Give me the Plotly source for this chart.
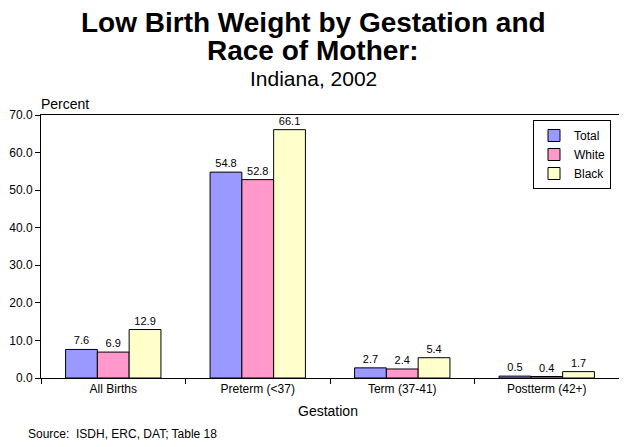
import plotly.graph_objects as go

categories = ["All Births", "Preterm (<37)", "Term (37-41)", "Postterm (42+)"]
series_names = ["Total", "White", "Black"]
total = [7.6, 54.8, 2.7, 0.5]
white = [6.9, 52.8, 2.4, 0.4]
black = [12.9, 66.1, 5.4, 1.7]
colors = ["#9999FF", "#FF99CC", "#FFFFCC"]

FONT = "Liberation Sans, Arial, sans-serif"

# page shows the figure offset by the 8px body margin
OFF = 8
W, H = 627 - OFF, 447 - OFF
l, r, t, b = 41 - OFF, 8, 115 - OFF, 69
pw, ph = W - l - r, H - t - b

def px(x):
    return (x - OFF - l) / pw

def py(y):
    return (H - b - (y - OFF)) / ph

fig = go.Figure()
for name, vals, col in zip(series_names, [total, white, black], colors):
    fig.add_trace(go.Bar(
        x=categories, y=vals, name=name,
        marker=dict(color=col, line=dict(color="black", width=1)),
        text=[f"{v:.1f}" for v in vals], textposition="outside",
        textfont=dict(size=11, color="black", family=FONT),
        cliponaxis=False,
    ))

def ann(text, x, y, size, xanchor="center"):
    return dict(text=text, x=px(x), y=py(y), xref="paper", yref="paper",
                showarrow=False, font=dict(size=size), xanchor=xanchor,
                yanchor="middle")

fig.update_layout(
    width=W, height=H,
    margin=dict(l=l, r=r, t=t, b=b, autoexpand=False),
    paper_bgcolor="white", plot_bgcolor="white",
    barmode="group", bargap=0.34, bargroupgap=0,
    font=dict(family=FONT, size=12, color="black"),
    showlegend=True,
    legend=dict(x=px(611), y=py(120), xanchor="right", yanchor="top",
                bordercolor="black", borderwidth=1, bgcolor="white",
                font=dict(size=12, family=FONT), tracegroupgap=0,
                itemwidth=30),
    xaxis=dict(showline=True, linecolor="black", linewidth=1, mirror=True,
               ticks="outside", ticklen=5, tickcolor="black",
               tickson="boundaries", showgrid=False, automargin=False,
               tickfont=dict(size=12)),
    yaxis=dict(range=[0, 70], dtick=10, tickformat=".1f",
               showline=True, linecolor="black", linewidth=1, mirror=True,
               ticks="outside", ticklen=5, tickcolor="black", automargin=False,
               showgrid=False, zeroline=False, tickfont=dict(size=12)),
    annotations=[
        ann("<b>Low Birth Weight by Gestation and</b>", 313, 23, 28),
        ann("<b>Race of Mother:</b>", 313, 50, 28),
        ann("Indiana, 2002", 313, 79, 21),
        ann("Percent", 39, 104, 14, "left"),
        ann("Gestation", 328, 411, 14),
        ann("Source:  ISDH, ERC, DAT; Table 18", 26, 434, 12, "left"),
    ],
)

fig.write_html("out.html")
